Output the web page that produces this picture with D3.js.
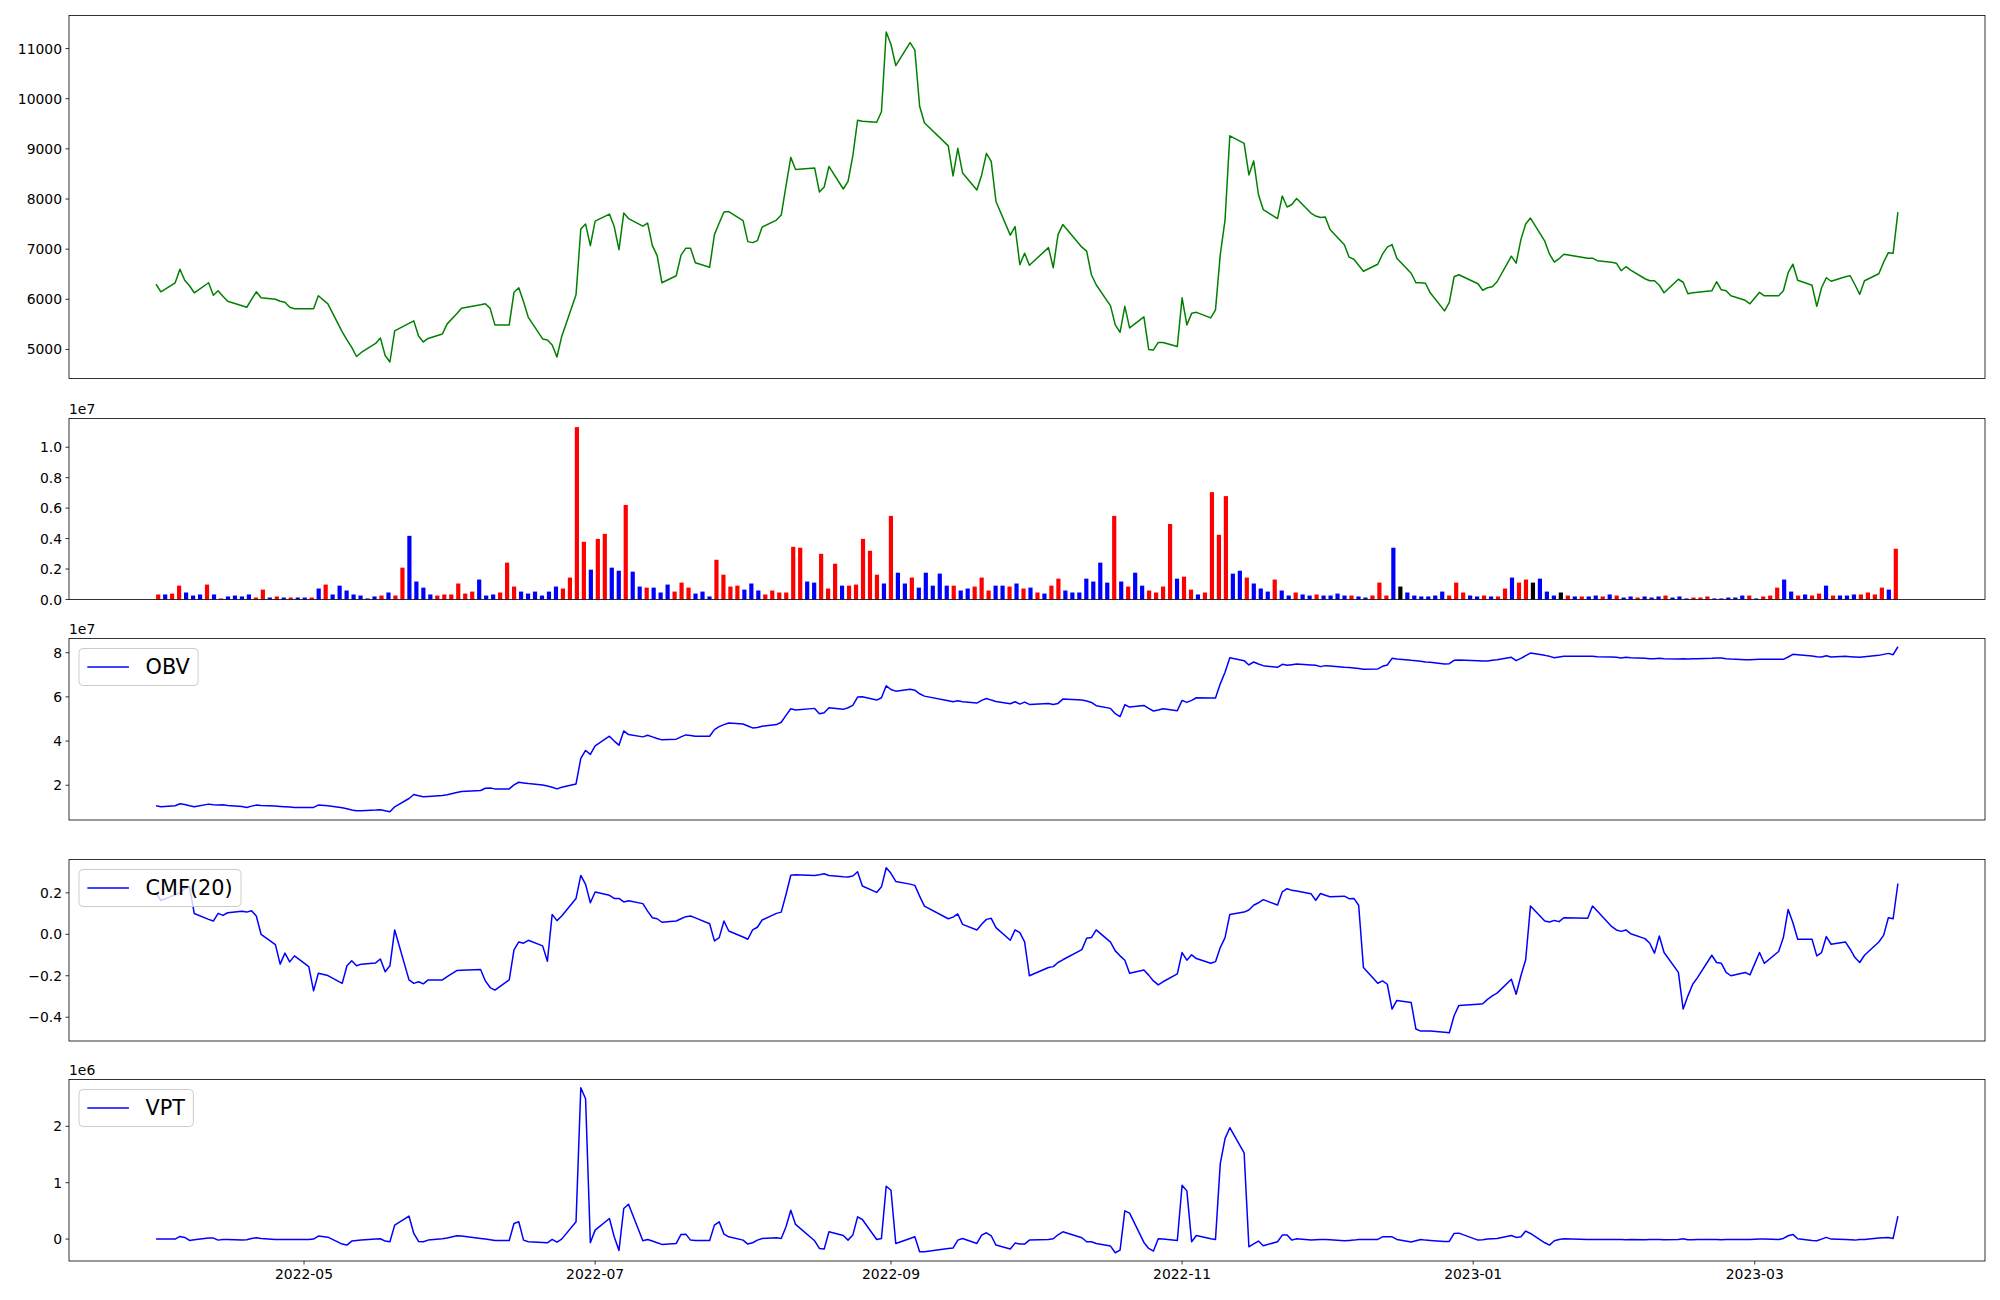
<!DOCTYPE html>
<html><head><meta charset="utf-8">
<script src="https://cdn.jsdelivr.net/npm/d3@7"></script>
<style>body{margin:0;background:#fff} text{font-family:"DejaVu Sans",sans-serif;fill:#000}</style>
</head><body><svg id="c" width="2000" height="1300" xmlns="http://www.w3.org/2000/svg"></svg>
<script>
// ---------------- DATA ----------------
const startDay = "2022-03-31", endDay = "2023-03-31";
const holidays = ["2022-05-05","2022-06-01","2022-06-06","2022-08-15","2022-09-09","2022-09-12",
  "2022-10-03","2022-10-10","2022-12-30","2023-01-23","2023-01-24","2023-03-01"];

// closing price, one row per trading week
const price = [
 6300,6150,6330,6600,6380,6270,6130,
 6330,6080,6170,6060,5960,
 5870,5840,6000,6150,6030,
 6000,5960,5940,5840,5810,
 5810,5810,6070,5910,
 5350,5190,5040,4860,4940,
 5120,5230,4880,4750,5370,
 5520,5570,5270,5150,5220,
 5310,5510,5710,5820,
 5890,5910,5820,5490,
 5490,6140,6230,5950,5640,
 5210,5190,5090,4850,5260,
 6090,7400,7500,7070,7560,
 7700,7450,6990,7720,7610,
 7460,7520,7070,6870,6330,
 6470,6880,7020,7020,6730,
 6640,7290,7520,7740,7750,
 7570,7150,7130,7170,7440,
 7580,7680,8260,8830,8590,
 8620,8140,8240,8650,
 8200,8350,8860,9570,9550,
 9530,9740,11330,11080,10660,
 11120,10970,9850,9520,
 9060,8460,9010,8520,
 8180,8480,8910,8750,7950,
 7280,7450,6690,6920,6680,
 7030,6630,7290,7490,
 7040,6960,6490,6290,
 5870,5490,5340,5860,5430,
 5650,5000,4990,5140,5140,
 5060,6030,5490,5720,5740,
 5630,5790,6890,7580,9260,
 9110,8480,8760,8090,7790,
 7610,8060,7840,7890,8010,
 7720,7660,7630,7640,7390,
 7090,6840,6800,6680,6560,
 6700,6900,7040,7090,6820,
 6520,6330,6330,6320,6130,
 5770,5940,6450,6490,
 6310,6180,6230,6250,6350,
 6860,6720,7190,7500,7620,
 7160,6900,6740,6810,6900,
 6820,6820,6770,
 6740,6720,6570,6650,6580,
 6410,6370,6370,6280,6130,
 6400,6340,6110,6130,6140,
 6170,6350,6190,6170,6070,
 5980,5910,6140,6070,
 6070,6170,6530,6700,6380,
 6280,5860,6230,6430,6360,
 6450,6470,6290,6100,6370,
 6510,6740,6930,6920,7740
];

// volume (units of 1e7), ten bars per row
const volumeE7 = [
 0.033,0.033,0.039,0.091,0.046,0.026,0.033,0.098,0.033,0.007,
 0.020,0.026,0.020,0.033,0.013,0.065,0.013,0.020,0.013,0.013,
 0.013,0.013,0.013,0.072,0.098,0.033,0.091,0.059,0.033,0.026,
 0.007,0.020,0.026,0.046,0.026,0.209,0.418,0.118,0.078,0.033,
 0.026,0.033,0.033,0.105,0.039,0.052,0.131,0.026,0.033,0.046,
 0.242,0.085,0.052,0.039,0.052,0.026,0.052,0.085,0.072,0.144,
 1.132,0.379,0.196,0.398,0.431,0.209,0.189,0.621,0.183,0.085,
 0.078,0.078,0.046,0.098,0.052,0.111,0.078,0.039,0.052,0.020,
 0.261,0.163,0.085,0.091,0.065,0.105,0.059,0.033,0.059,0.046,
 0.046,0.346,0.340,0.118,0.111,0.300,0.072,0.235,0.091,0.091,
 0.098,0.398,0.320,0.163,0.105,0.549,0.176,0.105,0.144,0.078,
 0.176,0.091,0.170,0.091,0.091,0.059,0.072,0.085,0.144,0.059,
 0.091,0.091,0.085,0.105,0.072,0.078,0.046,0.039,0.091,0.137,
 0.059,0.046,0.046,0.137,0.118,0.242,0.111,0.549,0.118,0.085,
 0.176,0.091,0.059,0.046,0.085,0.496,0.137,0.150,0.065,0.033,
 0.046,0.705,0.425,0.679,0.170,0.189,0.144,0.105,0.072,0.052,
 0.131,0.059,0.026,0.046,0.033,0.026,0.033,0.026,0.026,0.039,
 0.026,0.026,0.020,0.013,0.026,0.111,0.026,0.340,0.085,0.046,
 0.026,0.020,0.020,0.026,0.052,0.026,0.111,0.046,0.026,0.020,
 0.026,0.020,0.020,0.072,0.144,0.111,0.131,0.111,0.137,0.052,
 0.026,0.046,0.026,0.020,0.020,0.020,0.026,0.020,0.033,0.026,
 0.013,0.020,0.013,0.020,0.013,0.020,0.026,0.013,0.020,0.007,
 0.013,0.013,0.020,0.007,0.007,0.013,0.013,0.026,0.026,0.007,
 0.020,0.026,0.078,0.131,0.052,0.026,0.033,0.026,0.039,0.091,
 0.026,0.026,0.026,0.033,0.033,0.046,0.033,0.078,0.065,0.333
];
// bar colour code per bar: r = up, b = down, k = unchanged
const volumeDir = [
 "rbrrbbbrbr","bbbbrrbrbr","bbrbrbbbbb","bbrbrrbbbb","rrrrrrbbbr",
 "rrbbbbbbrr","rrbrrbbrbb","rbbbrrrbbb","rrrrbbbrrr","rrrbbrrrbr",
 "rrrrbrbbrb","bbbbrbbrrr","bbrbrbrbrr","bbbbbbbrbr","bbrrrrbrrb",
 "rrrrbbrbbb","rbbrbbrbbb","brbbrrrbkb","bbbbbrrrbb","rbrrbrrkbb",
 "bkrbrbbrbr","bbrbbbrbbb","rrrbbbbbrb","rrrbbrbrrb","rbbbrrrrbr"
].join("").split("");

// OBV (units of 1e7)
const obvE7 = [
 1.07,1.025,1.07,1.16,1.13,1.07,1.025,
 1.145,1.115,1.10,1.115,1.085,
 1.04,0.995,1.055,1.10,1.085,
 1.055,1.04,1.025,1.01,0.995,
 0.995,0.995,1.10,1.07,
 0.98,0.935,0.875,0.845,0.845,
 0.875,0.89,0.845,0.80,1.025,
 1.40,1.58,1.52,1.475,1.49,
 1.535,1.565,1.67,1.715,
 1.76,1.865,1.88,1.835,
 1.835,2.015,2.135,2.105,2.075,
 2.015,1.97,1.91,1.835,1.91,
 2.06,3.215,3.575,3.395,3.785,
 4.22,4.0,3.815,4.46,4.295,
 4.19,4.265,4.19,4.115,4.055,
 4.085,4.19,4.28,4.25,4.22,
 4.22,4.52,4.655,4.745,4.82,
 4.775,4.685,4.595,4.61,4.67,
 4.745,4.85,5.165,5.465,5.405,
 5.48,5.24,5.285,5.51,
 5.435,5.51,5.615,5.99,6.005,
 5.855,5.96,6.50,6.335,6.26,
 6.35,6.305,6.14,6.035,
 5.825,5.78,5.825,5.78,
 5.72,5.84,5.93,5.855,5.795,
 5.69,5.78,5.675,5.765,5.66,
 5.705,5.66,5.705,5.90,
 5.855,5.81,5.75,5.60,
 5.48,5.24,5.105,5.645,5.54,
 5.615,5.48,5.36,5.405,5.465,
 5.375,5.84,5.75,5.84,5.96,
 5.945,5.945,6.59,7.115,7.775,
 7.64,7.445,7.58,7.49,7.415,
 7.34,7.475,7.43,7.46,7.49,
 7.445,7.43,7.37,7.415,7.40,
 7.34,7.325,7.31,7.28,7.25,
 7.265,7.385,7.445,7.745,7.715,
 7.655,7.64,7.61,7.58,7.565,
 7.49,7.505,7.655,7.67,
 7.64,7.625,7.625,7.655,7.685,
 7.79,7.64,7.745,7.865,7.985,
 7.88,7.835,7.775,7.805,7.835,
 7.835,7.835,7.82,
 7.805,7.79,7.76,7.79,7.775,
 7.745,7.73,7.73,7.745,7.73,
 7.715,7.73,7.715,7.73,7.73,
 7.745,7.76,7.76,7.73,7.715,
 7.685,7.685,7.70,7.70,
 7.70,7.70,7.805,7.925,7.91,
 7.85,7.82,7.805,7.865,7.805,
 7.835,7.82,7.805,7.79,7.82,
 7.88,7.925,7.97,7.91,8.27
];

// CMF(20)
const cmf = [
 0.20,0.163,0.19,0.20,0.22,0.23,0.10,
 0.072,0.064,0.101,0.091,0.104,
 0.111,0.107,0.114,0.088,0.0,
 -0.050,-0.144,-0.091,-0.133,-0.104,
 -0.156,-0.273,-0.188,-0.199,
 -0.237,-0.152,-0.128,-0.152,-0.144,
 -0.138,-0.119,-0.181,-0.152,0.021,
 -0.220,-0.237,-0.229,-0.239,-0.220,
 -0.220,-0.204,-0.175,-0.173,
 -0.170,-0.225,-0.257,-0.269,
 -0.220,-0.075,-0.037,-0.043,-0.029,
 -0.056,-0.130,0.096,0.066,0.088,
 0.173,0.284,0.241,0.152,0.204,
 0.188,0.173,0.173,0.156,0.162,
 0.148,0.112,0.080,0.075,0.058,
 0.064,0.075,0.085,0.088,0.079,
 0.051,-0.032,-0.016,0.064,0.016,
 -0.013,-0.024,0.021,0.034,0.069,
 0.101,0.107,0.192,0.285,0.287,
 0.284,0.287,0.292,0.284,
 0.277,0.276,0.281,0.302,0.233,
 0.202,0.229,0.321,0.294,0.255,
 0.242,0.236,0.184,0.136,
 0.075,0.083,0.098,0.048,
 0.021,0.048,0.072,0.077,0.032,
 -0.029,0.021,0.008,-0.037,-0.200,
 -0.160,-0.156,-0.136,-0.123,
 -0.074,-0.019,-0.016,0.021,
 -0.038,-0.080,-0.104,-0.125,-0.188,
 -0.172,-0.197,-0.225,-0.244,-0.229,
 -0.191,-0.088,-0.125,-0.099,-0.117,
 -0.140,-0.132,-0.064,-0.016,0.096,
 0.107,0.117,0.140,0.152,0.167,
 0.141,0.205,0.220,0.212,0.209,
 0.196,0.164,0.197,0.188,0.181,
 0.184,0.172,0.173,0.140,-0.160,
 -0.236,-0.225,-0.241,-0.361,-0.319,
 -0.329,-0.457,-0.467,-0.467,-0.467,
 -0.473,-0.475,-0.393,-0.343,
 -0.337,-0.335,-0.314,-0.297,-0.284,
 -0.217,-0.289,-0.200,-0.123,0.136,
 0.064,0.059,0.067,0.061,0.080,
 0.077,0.136,0.112,
 0.038,0.021,0.014,0.021,0.003,
 -0.021,-0.043,-0.091,-0.008,-0.088,
 -0.184,-0.361,-0.297,-0.241,-0.209,
 -0.101,-0.136,-0.140,-0.184,-0.200,
 -0.184,-0.196,-0.088,-0.140,
 -0.083,-0.016,0.120,0.056,-0.024,
 -0.024,-0.104,-0.088,-0.011,-0.048,
 -0.037,-0.072,-0.112,-0.136,-0.101,
 -0.037,-0.005,0.080,0.075,0.245
];

// VPT (units of 1e6)
const vptE6 = [
 0.0,0.0,0.0,0.047,0.03,-0.024,-0.012,
 0.018,0.018,-0.018,-0.006,-0.006,
 -0.018,-0.012,0.012,0.024,0.012,
 -0.006,-0.006,-0.006,-0.006,-0.006,
 -0.006,0.0,0.053,0.035,
 -0.088,-0.106,-0.035,-0.024,-0.018,
 0.0,0.006,-0.035,-0.047,0.248,
 0.407,0.10,-0.041,-0.047,-0.018,
 0.006,0.018,0.059,0.053,
 0.012,0.0,-0.012,-0.024,
 -0.024,0.277,0.307,-0.018,-0.047,
 -0.059,-0.065,-0.006,-0.053,0.0,
 0.307,2.684,2.49,-0.065,0.159,
 0.366,0.041,-0.20,0.543,0.619,
 -0.03,-0.006,-0.035,-0.065,-0.094,
 -0.077,0.083,0.088,-0.018,-0.024,
 -0.024,0.248,0.307,0.088,0.041,
 -0.018,-0.088,-0.065,-0.018,0.012,
 0.024,0.012,0.218,0.513,0.26,
 -0.03,-0.165,-0.177,0.13,
 0.065,-0.018,0.071,0.395,0.348,
 -0.006,0.012,0.938,0.867,-0.077,
 0.012,0.041,-0.224,-0.224,
 -0.165,-0.159,-0.018,0.012,
 -0.077,0.071,0.112,0.059,-0.106,
 -0.177,-0.071,-0.088,-0.088,-0.018,
 -0.006,0.006,0.077,0.13,
 0.024,-0.047,-0.047,-0.077,
 -0.124,-0.242,-0.195,0.501,0.46,
 -0.059,-0.165,-0.212,0.006,0.0,
 -0.024,0.956,0.855,-0.047,0.065,
 0.006,-0.006,1.339,1.782,1.976,
 1.528,-0.136,-0.083,-0.035,-0.118,
 -0.047,0.071,0.071,-0.018,0.006,
 -0.018,-0.012,-0.006,-0.006,-0.012,
 -0.03,-0.024,-0.018,-0.006,-0.006,
 -0.006,0.041,0.041,0.041,-0.006,
 -0.053,-0.03,-0.006,-0.018,-0.024,
 -0.041,-0.041,0.1,0.106,
 -0.018,-0.012,0.0,0.006,0.012,
 0.065,0.03,0.041,0.142,0.1,
 -0.065,-0.106,-0.03,-0.006,0.006,
 -0.006,-0.006,-0.006,
 -0.006,-0.006,-0.006,-0.012,-0.006,
 -0.012,-0.006,-0.006,-0.006,-0.012,
 -0.006,0.006,-0.012,-0.012,-0.006,
 -0.006,-0.006,-0.012,-0.006,-0.006,
 -0.006,-0.006,0.0,0.0,
 -0.006,0.012,0.059,0.083,0.006,
 -0.024,-0.03,0.0,0.03,0.0,
 -0.006,-0.012,-0.018,-0.006,-0.006,
 0.018,0.024,0.03,0.012,0.407
];

const priceTicks = [5000,6000,7000,8000,9000,10000,11000];
const volTicks = [0,0.2,0.4,0.6,0.8,1.0];
const volTickLabels = ["0.0","0.2","0.4","0.6","0.8","1.0"];
const obvTicks = [2,4,6,8];
const obvTickLabels = ["2","4","6","8"];
const cmfTicks = [-0.4,-0.2,0.0,0.2];
const cmfTickLabels = ["\u22120.4","\u22120.2","0.0","0.2"];
const vptTicks = [0,1,2];
const vptTickLabels = ["0","1","2"];
const dateTicks = ["2022-05-01","2022-07-01","2022-09-01","2022-11-01","2023-01-01","2023-03-01"];
const dateTickLabels = ["2022-05","2022-07","2022-09","2022-11","2023-01","2023-03"];

// ---------------- DRAW ----------------
const DAY = 86400000;
const dates = [];
for (let t = Date.parse(startDay + "T00:00:00Z"); t <= Date.parse(endDay + "T00:00:00Z"); t += DAY) {
  const d = new Date(t), wd = d.getUTCDay(), s = d.toISOString().slice(0,10);
  if (wd !== 0 && wd !== 6 && !holidays.includes(s)) dates.push(d);
}
const N = Math.min(dates.length, price.length, volumeE7.length, obvE7.length, cmf.length, vptE6.length);

const svg = d3.select("#c");
svg.append("rect").attr("width",2000).attr("height",1300).attr("fill","#fff");
const L = 69, R = 1985;
const P = {
  price:{top:15.5,bottom:378.5},
  vol:{top:418.5,bottom:599.5},
  obv:{top:638.5,bottom:820},
  cmf:{top:859.5,bottom:1041},
  vpt:{top:1079.5,bottom:1261}
};
const t0 = dates[0].getTime(), t1 = dates[dates.length-1].getTime();
const mx = (t1 - t0) * 0.05;
const x = d3.scaleUtc().domain([new Date(t0 - mx), new Date(t1 + mx)]).range([L, R]);

function padDomain(vals){ const a=d3.min(vals), b=d3.max(vals), p=(b-a)*0.05; return [a-p,b+p]; }

function frame(p){
  svg.append("rect").attr("x",L).attr("y",p.top).attr("width",R-L).attr("height",p.bottom-p.top)
    .attr("fill","none").attr("stroke","#000").attr("stroke-width",0.8);
}
function yAxis(p, y, ticks, labels){
  const g = svg.append("g");
  ticks.forEach((v,i)=>{
    const yy = y(v);
    g.append("line").attr("x1",L-3.5).attr("x2",L).attr("y1",yy).attr("y2",yy).attr("stroke","#000").attr("stroke-width",0.8);
    g.append("text").attr("x",L-7).attr("y",yy).attr("dy","0.36em").attr("text-anchor","end")
      .attr("font-size","13.9px").text(labels ? labels[i] : String(v));
  });
}
function offsetText(p, s){
  svg.append("text").attr("x",L).attr("y",p.top-5).attr("font-size","13.9px").text(s);
}
function legend(p, label){
  const g = svg.append("g");
  const fs = 20.8, bp = 0.4*fs, hl = 2*fs, hp = 0.8*fs;
  const bx = L + 10, by = p.top + 10, bh = 37;
  const box = g.append("rect").attr("x",bx).attr("y",by).attr("height",bh).attr("rx",4)
    .attr("fill","#fff").attr("fill-opacity",0.8).attr("stroke","#cccccc").attr("stroke-width",1);
  const cy = by + bh/2;
  g.append("line").attr("x1",bx+bp).attr("x2",bx+bp+hl).attr("y1",cy).attr("y2",cy).attr("stroke","#0000ff").attr("stroke-width",1.5);
  const t = g.append("text").attr("x",bx+bp+hl+hp).attr("y",cy).attr("dy","0.36em").attr("font-size",fs+"px").text(label);
  const w = t.node().getComputedTextLength();
  box.attr("width", bp+hl+hp + w + bp);
}
function linePanel(p, vals, color){
  const y = d3.scaleLinear().domain(padDomain(vals.slice(0,N))).range([p.bottom, p.top]);
  const line = d3.line().x((d,i)=>x(dates[i])).y(d=>y(d));
  svg.append("path").datum(vals.slice(0,N)).attr("d",line).attr("fill","none")
    .attr("stroke",color).attr("stroke-width",1.5).attr("stroke-linejoin","round");
  return y;
}

// Price
const yP = linePanel(P.price, price, "#008000");
yAxis(P.price, yP, priceTicks);
frame(P.price);

// Volume bars (by bar index)
const bw = 0.6;
const xv = d3.scaleLinear().domain([-bw/2 - (N-1+bw)*0.05, N-1+bw/2 + (N-1+bw)*0.05]).range([L, R]);
const yV = d3.scaleLinear().domain([0, d3.max(volumeE7)*1.05]).range([P.vol.bottom, P.vol.top]);
const colorMap = {r:"#ff0000", b:"#0000ff", k:"#000000"};
svg.append("g").selectAll("rect").data(volumeE7.slice(0,N)).join("rect")
  .attr("x",(d,i)=>xv(i-bw/2)).attr("width",(d,i)=>xv(i+bw/2)-xv(i-bw/2))
  .attr("y",d=>yV(d)).attr("height",d=>yV(0)-yV(d))
  .attr("fill",(d,i)=>colorMap[volumeDir[i]]);
yAxis(P.vol, yV, volTicks, volTickLabels);
frame(P.vol);
offsetText(P.vol, "1e7");

// OBV
const yO = linePanel(P.obv, obvE7, "#0000ff");
yAxis(P.obv, yO, obvTicks, obvTickLabels);
frame(P.obv);
offsetText(P.obv, "1e7");
legend(P.obv, "OBV");

// CMF
const yC = linePanel(P.cmf, cmf, "#0000ff");
yAxis(P.cmf, yC, cmfTicks, cmfTickLabels);
frame(P.cmf);
legend(P.cmf, "CMF(20)");

// VPT
const yT = linePanel(P.vpt, vptE6, "#0000ff");
yAxis(P.vpt, yT, vptTicks, vptTickLabels);
frame(P.vpt);
offsetText(P.vpt, "1e6");
legend(P.vpt, "VPT");

// date axis
dateTicks.forEach((s,i)=>{
  const xx = x(new Date(s + "T00:00:00Z"));
  svg.append("line").attr("x1",xx).attr("x2",xx).attr("y1",P.vpt.bottom).attr("y2",P.vpt.bottom+3.5).attr("stroke","#000").attr("stroke-width",0.8);
  svg.append("text").attr("x",xx).attr("y",P.vpt.bottom+7).attr("dy","0.8em").attr("text-anchor","middle")
    .attr("font-size","13.9px").text(dateTickLabels[i]);
});
</script></body></html>
